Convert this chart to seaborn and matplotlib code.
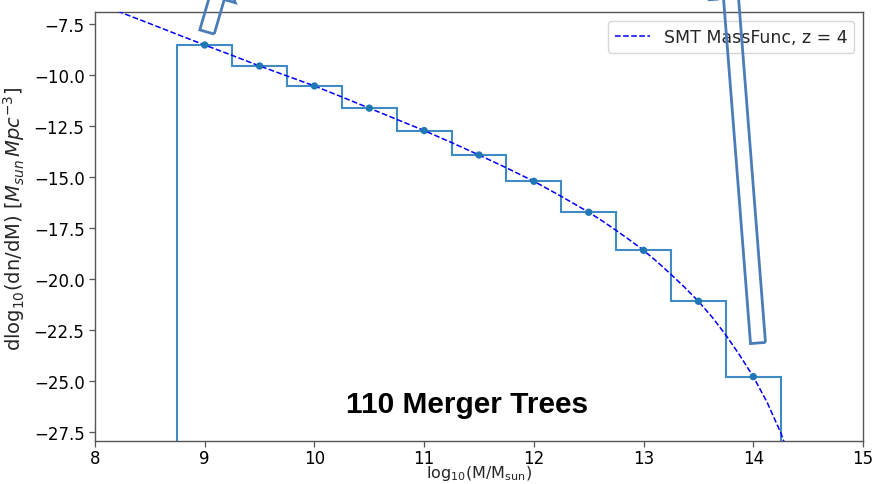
import numpy as np
import pandas as pd
import matplotlib
matplotlib.use("Agg")
import matplotlib.pyplot as plt
from matplotlib.patches import Polygon
import seaborn as sns

# Binned merger-tree halo mass function (bin centres, log10 dn/dM)
bin_centres = [9.0, 9.5, 10.0, 10.5, 11.0, 11.5, 12.0, 12.5, 13.0, 13.5, 14.0]
tree_logdndm = [-8.52, -9.55, -10.53, -11.62, -12.72, -13.92, -15.21,
                -16.73, -18.60, -21.10, -24.80]
bin_width = 0.5

# Sheth-Mo-Tormen mass function sampled at z = 4
smt_logm = [8.0, 8.25, 8.5, 8.75, 9.0, 9.25, 9.5, 9.75, 10.0, 10.25, 10.5,
            10.75, 11.0, 11.25, 11.5, 11.75, 12.0, 12.25, 12.5, 12.625,
            12.75, 12.875, 13.0, 13.125, 13.25, 13.375, 13.5, 13.625, 13.75,
            13.875, 14.0, 14.125, 14.25, 14.3]
smt_logdndm = [-6.42, -6.95, -7.47, -8.00, -8.52, -9.03, -9.55, -10.04,
               -10.53, -11.07, -11.62, -12.17, -12.72, -13.31, -13.92,
               -14.55, -15.21, -15.95, -16.73, -17.16, -17.62, -18.10,
               -18.60, -19.17, -19.78, -20.42, -21.10, -21.88, -22.76,
               -23.74, -24.80, -26.05, -27.55, -28.30]

x_ticks = [8, 9, 10, 11, 12, 13, 14, 15]
y_ticks = [-27.5, -25.0, -22.5, -20.0, -17.5, -15.0, -12.5, -10.0, -7.5]

sns.set_style("ticks")
plt.rcParams["font.family"] = ["DejaVu Sans"]
plt.rcParams["axes.edgecolor"] = "#555555"
plt.rcParams["xtick.color"] = "#555555"
plt.rcParams["ytick.color"] = "#555555"
plt.rcParams["xtick.labelcolor"] = "black"
plt.rcParams["ytick.labelcolor"] = "black"

W, H = 880, 485
fig = plt.figure(figsize=(W / 100, H / 100), dpi=100)
ax = fig.add_axes([95 / W, 1 - 442 / H, (863 - 95) / W, (442 - 13) / H])

smt = pd.DataFrame({"logm": smt_logm, "logdndm": smt_logdndm})
trees = pd.DataFrame({"logm": bin_centres, "logdndm": tree_logdndm})

# step outline of the binned function, closed down past the lower limit
edges = np.append(np.array(bin_centres) - bin_width / 2,
                  bin_centres[-1] + bin_width / 2)
ax.stairs(tree_logdndm, edges, baseline=-60, color="#3f8cc4", lw=1.5,
          zorder=2)

sns.lineplot(data=smt, x="logm", y="logdndm", ax=ax, color="blue",
             linestyle="--", lw=1.1, label="SMT MassFunc, z = 4", zorder=3)
ax.lines[-1].set_dashes((3.7, 1.6))
sns.scatterplot(data=trees, x="logm", y="logdndm", ax=ax, color="#1f77b4",
                s=28, edgecolor="none", zorder=4)

ax.set_xlim(8, 15)
ax.set_ylim(-27.96, -6.9)
ax.set_xticks(x_ticks)
ax.set_yticks(y_ticks)
ax.tick_params(labelsize=12, width=0.9, length=4)
ax.tick_params(axis="x", pad=2)
for s in ax.spines.values():
    s.set_linewidth(1.0)

# x label sits just under the tick labels, flush with the lower edge
ax.set_xlabel(r"log$_{10}$(M/M$_{\rm sun}$)", fontsize=11.5, va="bottom")
ax.xaxis.set_label_coords(0.5, -(H - 2 - 442) / 429)
ax.set_ylabel(r"dlog$_{10}$(dn/dM) [$M_{sun}\,Mpc^{-3}$]", fontsize=14)
ax.yaxis.set_label_coords(-0.0885, 0.52)

ax.legend(loc="upper right", fontsize=12.5, handlelength=2.0,
          framealpha=0.8)

ax.text(11.39, -26.15, "110 Merger Trees", fontsize=21.5, fontweight="bold",
        family="Liberation Sans", ha="center", va="center", color="black",
        zorder=6)


def block_arrow(tail, direction, length, shaft_w, head_base, head_w):
    """Outline of a block arrow in pixel coordinates (y measured downward)."""
    t = np.array(tail, float)
    u = np.array(direction, float)
    u /= np.hypot(*u)
    n = np.array([-u[1], u[0]])
    b = t + u * head_base
    tip = t + u * length
    pts = [t + n * shaft_w / 2, b + n * shaft_w / 2, b + n * head_w / 2, tip,
           b - n * head_w / 2, b - n * shaft_w / 2, t - n * shaft_w / 2]
    return [(px / W, 1 - py / H) for px, py in pts]


arrow_color = "#4a7cb8"
for spec in [((207, 33), (0.28, -0.96), 60, 15, 36, 38),
             ((758, 344), (-0.078, -0.997), 372, 15, 346, 42)]:
    poly = Polygon(block_arrow(*spec), closed=True, fill=False,
                   edgecolor=arrow_color, lw=2.0, transform=fig.transFigure,
                   clip_on=False, zorder=10)
    fig.patches.append(poly)

fig.savefig("out.png", dpi=100)
